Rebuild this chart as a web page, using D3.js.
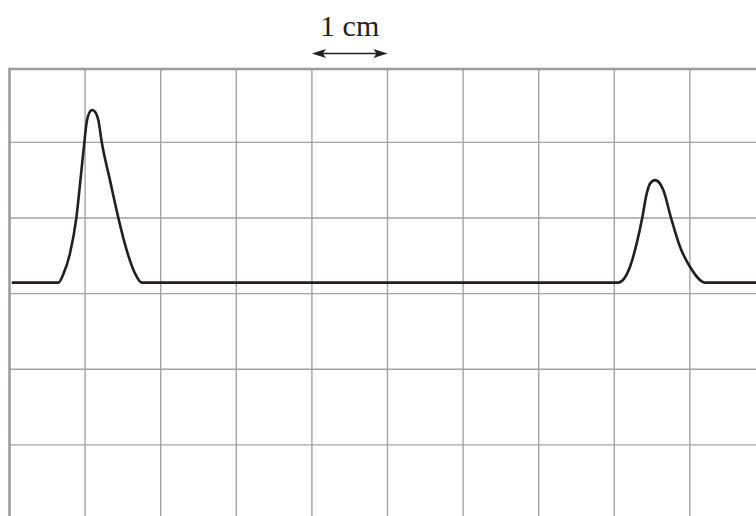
<!DOCTYPE html>
<html>
<head>
<meta charset="utf-8">
<script src="https://cdn.jsdelivr.net/npm/d3@7"></script>
<style>
  html, body { margin: 0; padding: 0; background: #fff; }
  svg { display: block; }
</style>
</head>
<body>
<div id="chart"></div>
<script>
// trace, in grid units (1 division = 1 cm)
let traceX = [0.03, 0.646, 0.712, 0.798, 0.884, 0.952, 0.989, 1.021, 1.054, 1.095, 1.138, 1.175, 1.220, 1.329, 1.439, 1.550, 1.660, 1.749,
              8.053, 8.208, 8.296, 8.370, 8.429, 8.475, 8.538, 8.602, 8.648, 8.750, 8.869, 9.001, 9.200, 9.9];
let traceY = [0.146, 0.146, 0.258, 0.523, 0.999, 1.634, 1.991, 2.269, 2.388, 2.427, 2.394, 2.295, 2.004, 1.501, 1.005, 0.574, 0.267, 0.146,
              0.146, 0.355, 0.664, 1.003, 1.325, 1.458, 1.501, 1.458, 1.369, 1.003, 0.619, 0.355, 0.146, 0.146];
let gridCols = [1, 2, 3, 4, 5, 6, 7, 8, 9];
let gridRows = [2, 1, 0, -1, -2];
let scaleBar = {from: 4, to: 5, label: '1 cm'};

let sizes = {width: 756, height: 516};

let svg = d3.select('#chart').append('svg')
    .attr('width', sizes.width)
    .attr('height', sizes.height);

let x = d3.scaleLinear().domain([0, 10]).range([9.5, 765.5]);
let y = d3.scaleLinear().domain([-2.94, 2.97]).range([516, 69]);

// grid
let grid = svg.append('g').attr('id', 'grid');
grid.selectAll('line.v')
    .data(gridCols)
    .enter().append('line')
    .attr('class', 'v')
    .attr('x1', d => x(d)).attr('x2', d => x(d))
    .attr('y1', y(2.97)).attr('y2', sizes.height)
    .attr('stroke', '#a3a3a6').attr('stroke-width', 1.4);
grid.selectAll('line.h')
    .data(gridRows)
    .enter().append('line')
    .attr('class', 'h')
    .attr('x1', x(0)).attr('x2', sizes.width)
    .attr('y1', d => y(d)).attr('y2', d => y(d))
    .attr('stroke', '#a3a3a6').attr('stroke-width', 1.4);
// thicker frame on the top and left
grid.append('line')
    .attr('x1', x(0)).attr('x2', sizes.width)
    .attr('y1', y(2.97)).attr('y2', y(2.97))
    .attr('stroke', '#9c9ca0').attr('stroke-width', 2.6);
grid.append('line')
    .attr('x1', x(0)).attr('x2', x(0))
    .attr('y1', y(2.97) - 1.3).attr('y2', sizes.height)
    .attr('stroke', '#9c9ca0').attr('stroke-width', 2.6);

// the trace
let line = d3.line()
    .x((d, i) => x(traceX[i]))
    .y((d, i) => y(traceY[i]))
    .curve(d3.curveMonotoneX);
svg.append('path')
    .datum(traceX)
    .attr('d', line)
    .attr('fill', 'none')
    .attr('stroke', '#231f20')
    .attr('stroke-width', 2.6)
    .attr('stroke-linejoin', 'round');

// 1 cm scale bar
let ay = 53.5, x1 = x(scaleBar.from), x2 = x(scaleBar.to);
let bar = svg.append('g').attr('id', 'scaleBar');
bar.append('line')
    .attr('x1', x1 + 6).attr('x2', x2 - 6)
    .attr('y1', ay).attr('y2', ay)
    .attr('stroke', '#231f20').attr('stroke-width', 1.5);
bar.append('path')
    .attr('d', `M${x1},${ay} L${x1 + 14},${ay - 4.5} L${x1 + 11},${ay} L${x1 + 14},${ay + 4.5} Z`)
    .attr('fill', '#231f20');
bar.append('path')
    .attr('d', `M${x2},${ay} L${x2 - 14},${ay - 4.5} L${x2 - 11},${ay} L${x2 - 14},${ay + 4.5} Z`)
    .attr('fill', '#231f20');
bar.append('text')
    .attr('x', (x1 + x2) / 2)
    .attr('y', 35.5)
    .attr('text-anchor', 'middle')
    .style('font-family', '"Liberation Serif", "Times New Roman", serif')
    .style('font-size', '30px')
    .attr('fill', '#231f20')
    .text(scaleBar.label);
</script>
</body>
</html>
